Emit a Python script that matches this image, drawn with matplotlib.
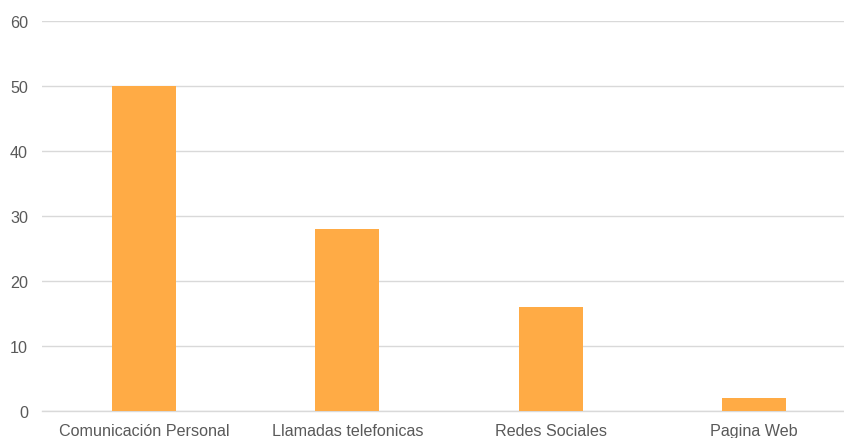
import matplotlib
matplotlib.use("Agg")
import matplotlib.pyplot as plt

categories = ["Comunicación Personal", "Llamadas telefonicas", "Redes Sociales", "Pagina Web"]
values = [50, 28, 16, 2]
yticks = [0, 10, 20, 30, 40, 50, 60]

plt.rcParams['font.family'] = ['Liberation Sans', 'DejaVu Sans']

fig = plt.figure(figsize=(8.45, 4.39), dpi=100)
ax = fig.add_axes([42/845, (439-412)/439, (845-42)/845, (412-22)/439])
x = list(range(len(categories)))
ax.bar(x, values, width=0.315, color="#FFAB45", zorder=3)
ax.set_ylim(0, 60)
ax.set_xlim(-0.502, 3.448)
ax.set_yticks(yticks)
ax.set_xticks(x)
ax.set_xticklabels(categories)
ax.grid(axis='y', color="#D9D9D9", linewidth=1, zorder=0)
ax.axhline(0, color="#D9D9D9", linewidth=1, zorder=2, clip_on=False)
for s in ax.spines.values():
    s.set_visible(False)
ax.tick_params(axis='both', length=0, labelsize=11.6, labelcolor="#595959")
ax.tick_params(axis='y', pad=10)
ax.tick_params(axis='x', pad=9)
fig.savefig("out.png", dpi=100)
